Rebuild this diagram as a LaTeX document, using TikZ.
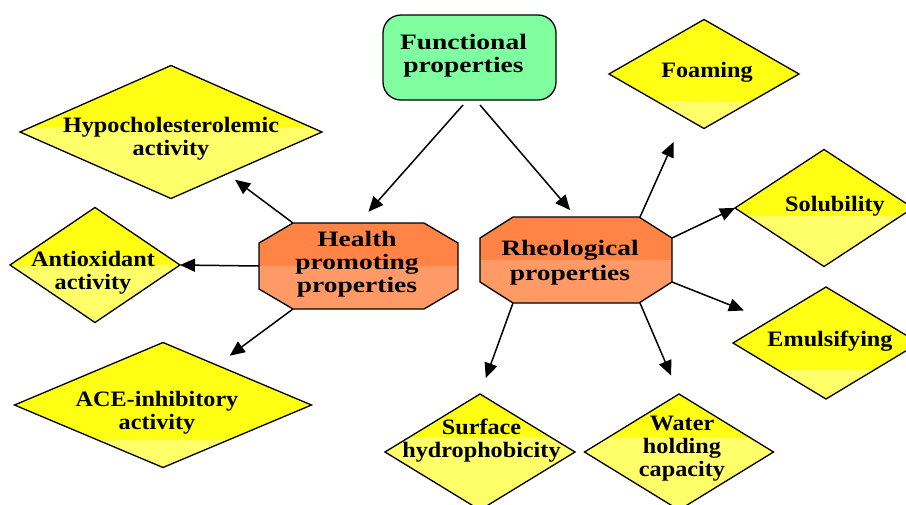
\documentclass[tikz,border=0pt]{standalone}
\usepackage{fontspec}
\usetikzlibrary{shapes.geometric,calc,arrows.meta}
\newfontfamily\dfont{Liberation Serif}[FakeStretch=1.1]
\newfontfamily\cfont{Liberation Serif}[FakeStretch=1.25]
\definecolor{ytop}{RGB}{255,255,20}
\definecolor{ybot}{RGB}{255,255,105}
\definecolor{otop}{RGB}{255,132,70}
\definecolor{obot}{RGB}{255,154,102}
\definecolor{gfill}{RGB}{128,255,160}
\newcommand\octa[3]{%
  \draw[line width=1.3pt, fill=otop, path picture={\fill[obot] (#1.west) rectangle (#1.south east);}]
    ($(#1.north west)+(#2,0)$) -- ($(#1.north east)+(-#2,0)$) -- ($(#1.north east)+(0,#3)$) --
    ($(#1.south east)+(0,-#3)$) -- ($(#1.south east)+(-#2,0)$) -- ($(#1.south west)+(#2,0)$) --
    ($(#1.south west)+(0,-#3)$) -- ($(#1.north west)+(0,#3)$) -- cycle;}
\begin{document}
\begin{tikzpicture}[x=1pt,y=-1pt,
  dia/.style={diamond, draw, line width=1.3pt, fill=ytop, inner sep=0pt, outer sep=0pt,
    path picture={\fill[ybot] ($(path picture bounding box.west)+(0,#1)$) rectangle (path picture bounding box.south east);}},
  box/.style={rectangle, inner sep=0pt, outer sep=0pt},
  dtxt/.style={font=\dfont\bfseries\fontsize{22}{23}\selectfont, align=center, inner sep=0pt},
  ctxt/.style={font=\cfont\bfseries\fontsize{22}{23}\selectfont, align=center, inner sep=0pt},
  arr/.style={line width=1.5pt, -{Triangle[length=15pt,width=13pt]}}]
\useasboundingbox (0,0) rectangle (906,504);
\clip (0,0) rectangle (906,504);
\fill[white] (0,0) rectangle (906,504);

% central boxes
\node[box, draw, line width=1.3pt, fill=gfill, rounded corners=18pt, minimum width=173pt, minimum height=85pt] (func) at (469.5,57.5) {};
\node[box, minimum width=199pt, minimum height=86pt] (health) at (358.5,266) {};
\node[box, minimum width=192pt, minimum height=86pt] (rheo) at (576,260) {};
\octa{health}{34}{20}
\octa{rheo}{33}{21}

% diamonds
\node[dia=-5, minimum width=302pt, minimum height=133pt] (hypo) at (171,132) {};
\node[dia=0, minimum width=170pt, minimum height=115pt] (anti) at (95,265) {};
\node[dia=35, minimum width=297pt, minimum height=125pt] (ace) at (163,405) {};
\node[dia=-15, minimum width=190pt, minimum height=116pt] (surf) at (480,452) {};
\node[dia=-15, minimum width=189pt, minimum height=116pt] (water) at (679,452) {};
\node[dia=27, minimum width=190pt, minimum height=109pt] (foam) at (704,74) {};
\node[dia=8, minimum width=178pt, minimum height=117pt] (solu) at (824,208) {};
\node[dia=27, minimum width=186pt, minimum height=112pt] (emul) at (826,343) {};

% texts
\node[ctxt] (tfunc) at (463.5,56) {Functional\\properties};
\node[ctxt] (thealth) at (357,264) {Health\\promoting\\properties};
\node[ctxt, font=\cfont\bfseries\fontsize{22}{25}\selectfont] (trheo) at (570,263) {Rheological\\properties};
\node[dtxt] (thypo) at (171,139) {Hypocholesterolemic\\activity};
\node[dtxt] (tanti) at (93,273) {Antioxidant\\activity};
\node[dtxt] (tace) at (157,413) {ACE-inhibitory\\activity};
\node[dtxt] (tsurf) at (481.5,441) {Surface\\hydrophobicity};
\node[dtxt] (twater) at (682,449) {Water\\holding\\capacity};
\node[dtxt] (tfoam) at (707,72) {Foaming};
\node[dtxt] (tsolu) at (835,206) {Solubility};
\node[dtxt] (temul) at (830,341) {Emulsifying};

% arrows
\draw[arr, shorten >=15pt] ($(func.south)+(-6.5,5)$) -- (health.north);
\draw[arr, shorten >=9pt] ($(func.south)+(10.5,5)$) -- (rheo.north);
\draw[arr, shorten >=10pt] ($(health.north west)+(34,0)$) -- (hypo);
\draw[arr] (health.west) -- (anti.east);
\draw[arr, shorten >=16pt] ($(health.south west)+(34,0)$) -- (ace);
\draw[arr, shorten >=27pt] ($(rheo.north east)+(-32,0)$) -- (foam);
\draw[arr] ($(rheo.north east)+(0,21)$) -- (solu.west);
\draw[arr, shorten >=28pt] ($(rheo.south east)+(0,-21)$) -- (emul);
\draw[arr, shorten >=17pt] ($(rheo.south west)+(33,0)$) -- (surf.north);
\draw[arr, shorten >=20pt] ($(rheo.south east)+(-32,0)$) -- (water.north);
\end{tikzpicture}
\end{document}
